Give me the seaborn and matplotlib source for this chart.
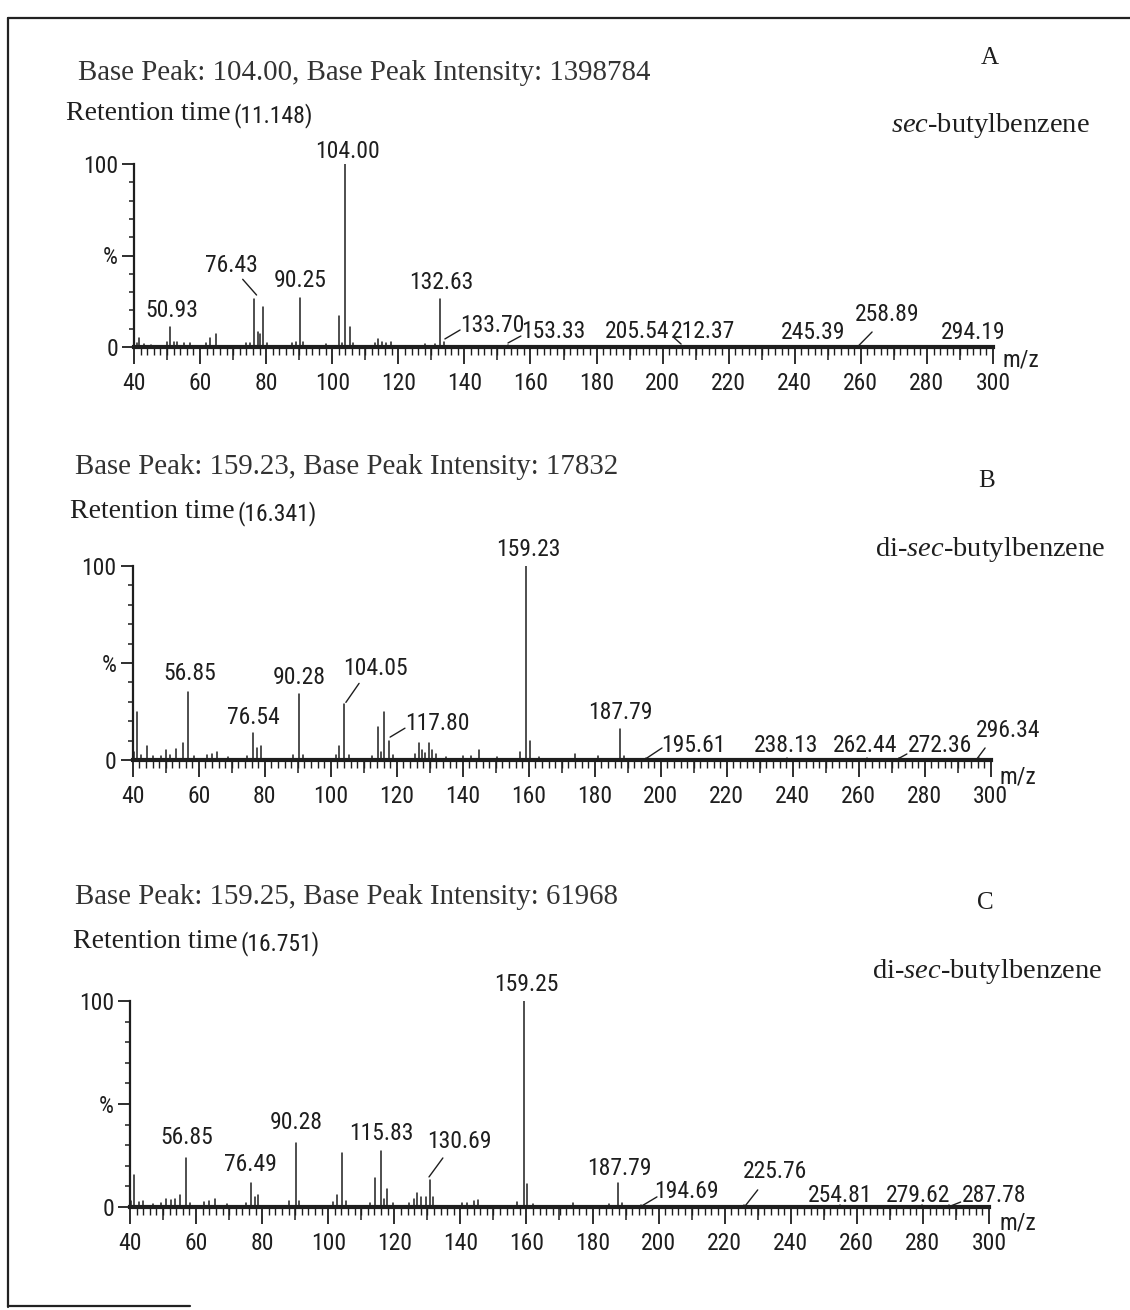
import numpy as np
import pandas as pd
import matplotlib
matplotlib.use("Agg")
import matplotlib.pyplot as plt
from matplotlib import font_manager
from matplotlib.font_manager import FontProperties
from matplotlib.lines import Line2D
from matplotlib.ticker import MultipleLocator
import seaborn as sns

# ---------------- spectra (m/z, relative intensity %) ----------------
mz_a = [40.9, 41.6, 43.0, 45.1, 50.1, 50.93, 52.0, 53.1, 55.0, 57.1, 61.9, 63.1, 64.9,
        74.0, 75.1, 76.43, 77.6, 78.1, 79.1, 80.2, 87.9, 89.1, 90.25, 91.2, 98.0, 102.1,
        103.0, 104.00, 105.4, 106.2, 113.0, 114.0, 115.1, 116.2, 117.8, 128.0, 131.0,
        132.63, 133.70, 153.33, 205.54, 212.37, 245.39, 258.89, 294.19]
int_a = [2, 5, 1.5, 1, 2.5, 11, 3, 3, 2, 2, 2, 5, 7,
         2, 2, 26, 8, 7, 22, 2, 2, 3, 27, 3, 1.5, 17,
         2, 100, 11, 2, 2, 4.5, 2.5, 2, 2.5, 1.5, 1.5,
         26, 3, 1.2, 0.8, 0.8, 0.7, 0.8, 0.8]

mz_b = [40.3, 41.3, 42.5, 44.2, 46.0, 48.5, 50.2, 51.3, 53.2, 55.1, 56.85, 58.5, 62.5,
        64.0, 65.5, 69.0, 74.5, 76.54, 77.8, 78.9, 88.5, 90.28, 91.5, 101.5, 102.6,
        104.05, 105.5, 112.5, 114.3, 115.2, 116.0, 117.80, 119.0, 125.5, 126.7, 127.8,
        128.7, 129.9, 130.8, 131.8, 135.0, 140.0, 142.5, 145.0, 150.5, 157.3, 159.23,
        160.3, 163.0, 174.0, 181.0, 187.79, 189.0, 195.61, 238.13, 262.44, 272.36, 296.34]
int_b = [4, 25, 2.5, 7, 2, 2, 5, 2.5, 5.5, 9, 35, 2, 2.5,
         3, 4, 1.5, 2, 14, 6, 7, 2.5, 34, 2.5, 2.5, 7,
         29, 2.5, 2, 17, 4, 25, 10, 2.5, 3, 9, 5,
         3.5, 9, 5, 3, 1.5, 2, 2, 5, 1.5, 4, 100,
         10, 1.5, 3, 2, 16, 2, 1.2, 0.8, 0.8, 0.8, 1.2]

mz_c = [40.3, 41.3, 42.8, 44.0, 47.0, 49.5, 51.0, 52.4, 53.5, 55.1, 56.85, 58.2, 62.5,
        64.0, 65.8, 69.5, 75.0, 76.49, 77.7, 78.8, 88.2, 90.28, 91.3, 101.5, 102.8,
        104.2, 105.5, 112.5, 114.3, 115.83, 116.8, 117.8, 119.5, 124.5, 125.9, 127.0,
        128.1, 129.6, 130.69, 131.7, 140.5, 142.0, 144.0, 145.3, 157.0, 159.25, 160.2,
        162.0, 174.0, 185.0, 187.79, 189.0, 194.69, 225.76, 254.81, 279.62, 287.78]
int_c = [3, 15.5, 2.5, 3, 1.5, 2, 4, 3.5, 4, 6, 24, 2, 2.5,
         3, 4, 1.5, 2, 11.5, 5, 6, 3, 31, 3, 2.5, 6,
         26, 3, 2, 14, 27, 4, 8.5, 2, 2, 4, 7,
         5, 5, 13, 5, 2, 2, 3, 3.5, 2.5, 100, 11,
         1.5, 2, 1.5, 11.5, 2, 1, 0.8, 0.8, 0.8, 0.8]

x_ticks = [40, 60, 80, 100, 120, 140, 160, 180, 200, 220, 240, 260, 280, 300]
y_ticks = [0, 50, 100]
y_tick_labels = ["0", "%", "100"]

titles = ["Base Peak: 104.00, Base Peak Intensity: 1398784",
          "Base Peak: 159.23, Base Peak Intensity: 17832",
          "Base Peak: 159.25, Base Peak Intensity: 61968"]
retention = ["(11.148)", "(16.341)", "(16.751)"]
panel_ids = ["A", "B", "C"]
compounds = [r"$\mathit{sec}$-butylbenzene",
             r"di-$\mathit{sec}$-butylbenzene",
             r"di-$\mathit{sec}$-butylbenzene"]

# ---------------- layout (pixels / data-space label placement) ----------------
W, H = 1130, 1310
INK = "#1e1e1e"
TXT = "#333333"

# axes frame: left px (m/z 40), right px (m/z 300), px of 0 %, px of 100 %
frames = [(134, 993, 347, 164), (132.7, 990.7, 760, 566), (130, 989, 1207, 1001)]

# header placement: title (x, y), retention (x, y), id (x, y), compound right edge (x, y)
headers = [((78, 73), (66, 114), (990, 58), (1090, 126)),
           ((75, 467), (70, 512), (987, 481), (1105, 549)),
           ((75, 897), (73, 942), (985, 903), (1102, 972))]

# peak-label text centres in data units
label_pos = [
    {"50.93": (51.5, 20.2), "76.43": (69.4, 44.8), "90.25": (90.2, 36.1),
     "104.00": (104.5, 106.6), "132.63": (132.9, 35.5), "133.70": (148.4, 11.5),
     "153.33": (166.8, 8.7), "205.54": (192.2, 8.7), "212.37": (212.2, 8.7),
     "245.39": (245.5, 7.7), "258.89": (267.9, 17.5), "294.19": (293.9, 7.7)},
    {"56.85": (57.4, 44.6), "76.54": (76.5, 22.1), "90.28": (90.4, 42.6),
     "104.05": (113.7, 47.2), "117.80": (132.2, 19.0), "159.23": (159.8, 108.7),
     "187.79": (187.7, 24.6), "195.61": (209.8, 7.7), "238.13": (238.0, 7.7),
     "262.44": (261.9, 7.7), "272.36": (284.6, 7.7), "296.34": (305.3, 15.4)},
    {"56.85": (57.2, 33.5), "76.49": (76.6, 20.4), "90.28": (90.2, 40.8),
     "115.83": (116.2, 35.9), "130.69": (139.8, 31.6), "159.25": (160.1, 107.8),
     "187.79": (188.0, 18.9), "194.69": (208.5, 7.3), "225.76": (235.2, 17.0),
     "254.81": (254.8, 5.8), "279.62": (278.4, 5.8), "287.78": (301.4, 5.8)},
]

# leader lines from peak to its label, data units
leaders = [
    [((77.1, 28.4), (72.9, 37.0)), ((134.1, 4.4), (138.7, 9.3)),
     ((153.2, 2.2), (157.1, 6.0)), ((205.6, 1.6), (203.2, 5.5)),
     ((259.1, 0.3), (263.4, 8.2))],
    [((104.6, 29.7), (108.6, 39.5)), ((118.0, 11.8), (122.5, 16.4)),
     ((195.8, 1.0), (200.4, 6.2)), ((271.6, 0.3), (274.6, 3.1)),
     ((295.8, 0.5), (298.3, 6.2))],
    [((130.5, 14.6), (134.7, 23.8)), ((194.9, 0.5), (199.5, 4.9)),
     ((226.1, 0.3), (230.0, 8.3)), ((288.1, 0.3), (291.4, 2.4))],
]
mz_label_pos = [(303.0, -7.0), (302.8, -8.7), (303.2, -7.8)]

# ---------------- style ----------------
sns.set_theme(style="white")
plt.rcParams["font.family"] = ["Liberation Serif", "DejaVu Serif"]
plt.rcParams["mathtext.fontset"] = "custom"
plt.rcParams["mathtext.rm"] = "Liberation Serif"
plt.rcParams["mathtext.it"] = "Liberation Serif:italic"


def pick_numeric_font():
    """Prefer a narrow sans for the instrument-style numerals."""
    fonts = font_manager.fontManager.ttflist
    regular = [f for f in fonts if f.style == "normal" and f.weight in (400, "normal", "regular")]
    for name in ("Liberation Sans Narrow", "Roboto Condensed", "Open Sans Condensed",
                 "DejaVu Sans Condensed", "Noto Sans Condensed"):
        for f in regular:
            if f.name == name:
                return f.fname, 17.0
    for stretch in ("condensed", "semi-condensed", "extra-condensed"):
        for name in ("Noto Sans", "Roboto", "Open Sans", "DejaVu Sans", "Liberation Sans"):
            for f in regular:
                if f.name == name and f.stretch == stretch:
                    return f.fname, 16.5
    for f in regular:
        if f.name == "Roboto":
            return f.fname, 15.5
    return None, 14.0


num_path, NUM_SIZE = pick_numeric_font()


def num_font(size=None):
    size = NUM_SIZE if size is None else size
    if num_path:
        return FontProperties(fname=num_path, size=size)
    return FontProperties(family="DejaVu Sans", size=size)


def fx(px):
    return px / W


def fy(py):
    return 1 - py / H


fig = plt.figure(figsize=(W / 100, H / 100), dpi=100)
fig.patch.set_facecolor("white")

spectra = [(mz_a, int_a), (mz_b, int_b), (mz_c, int_c)]

for i, (mz, inten) in enumerate(spectra):
    l, r, y0, y100 = frames[i]
    ax = fig.add_axes([fx(l), fy(y0), (r - l) / W, (y0 - y100) / H])
    ax.set_facecolor("none")

    mz_arr = np.asarray(mz, dtype=float)
    h_arr = np.asarray(inten, dtype=float)
    stems = pd.DataFrame({
        "mz": np.repeat(mz_arr, 2),
        "pct": np.column_stack([np.zeros_like(h_arr), h_arr]).ravel(),
        "peak": np.repeat(np.arange(len(mz_arr)), 2),
    })
    sns.lineplot(data=stems, x="mz", y="pct", units="peak", estimator=None,
                 sort=False, color=INK, lw=1.1, ax=ax, legend=False)

    ax.set_xlim(40, 300)
    ax.set_ylim(0, 100)
    ax.set_xlabel("")
    ax.set_ylabel("")
    for side in ("top", "right"):
        ax.spines[side].set_visible(False)
    ax.spines["left"].set_linewidth(1.6)
    ax.spines["left"].set_color(INK)
    ax.spines["bottom"].set_linewidth(3.0)
    ax.spines["bottom"].set_color(INK)

    ax.set_xticks(x_ticks)
    ax.set_xticklabels([str(t) for t in x_ticks], fontproperties=num_font(), color=INK)
    ax.xaxis.set_minor_locator(MultipleLocator(2))
    ax.tick_params(axis="x", which="major", bottom=True, direction="out",
                   length=12, width=1.3, pad=6, color=INK)
    ax.tick_params(axis="x", which="minor", bottom=True, direction="out",
                   length=6, width=1.0, color=INK)

    ax.set_yticks(y_ticks)
    ax.set_yticklabels(y_tick_labels, fontproperties=num_font(), color=INK)
    ax.yaxis.set_minor_locator(MultipleLocator(10))
    ax.tick_params(axis="y", which="major", left=True, direction="out",
                   length=8.5, width=1.3, pad=3, color=INK)
    ax.tick_params(axis="y", which="minor", left=True, direction="out",
                   length=3.6, width=1.1, color=INK)

    # intermediate ticks every 10 m/z
    ax10 = ax.twiny()
    ax10.set_xlim(40, 300)
    ax10.set_xticks(np.arange(50, 300, 20))
    ax10.xaxis.set_ticks_position("bottom")
    ax10.tick_params(axis="x", which="major", bottom=True, top=False,
                     labelbottom=False, labeltop=False, direction="out",
                     length=9, width=1.1, color=INK)
    for sp in ax10.spines.values():
        sp.set_visible(False)

    # peak labels
    for text, (tx, ty) in label_pos[i].items():
        ax.text(tx, ty, text, ha="center", va="center", fontproperties=num_font(),
                color=INK, clip_on=False)
    for (x0, y0_), (x1, y1) in leaders[i]:
        ax.plot([x0, x1], [y0_, y1], color=INK, lw=1.0, clip_on=False)
    mx, my = mz_label_pos[i]
    ax.text(mx, my, "m/z", ha="left", va="center", fontproperties=num_font(),
            color=INK, clip_on=False)

    # headers
    (tx, ty), (rx, ry), (ix, iy), (cx, cy) = headers[i]
    fig.text(fx(tx), fy(ty), titles[i], ha="left", va="center",
             fontsize=20.8, color=TXT)
    rt = fig.text(fx(rx), fy(ry), "Retention time", ha="left", va="center",
                  fontsize=20, color=INK)
    ax.annotate(retention[i], xy=(1, 0.45), xycoords=rt, xytext=(2, 0),
                textcoords="offset points", ha="left", va="center",
                fontproperties=num_font(), color=INK, annotation_clip=False)
    fig.text(fx(ix), fy(iy), panel_ids[i], ha="center", va="center",
             fontsize=18, color=INK)
    fig.text(fx(cx), fy(cy), compounds[i], ha="right", va="center",
             fontsize=20.5, color=INK)

# outer frame
frame_kw = dict(color="#222222", lw=1.6, transform=fig.transFigure)
fig.add_artist(Line2D([fx(8), fx(8)], [fy(18), fy(1307)], **frame_kw))
fig.add_artist(Line2D([fx(8), fx(1130)], [fy(18), fy(18)], **frame_kw))
fig.add_artist(Line2D([fx(8), fx(190)], [fy(1306), fy(1306)], **frame_kw))

fig.savefig("out.png", dpi=100, facecolor="white")
